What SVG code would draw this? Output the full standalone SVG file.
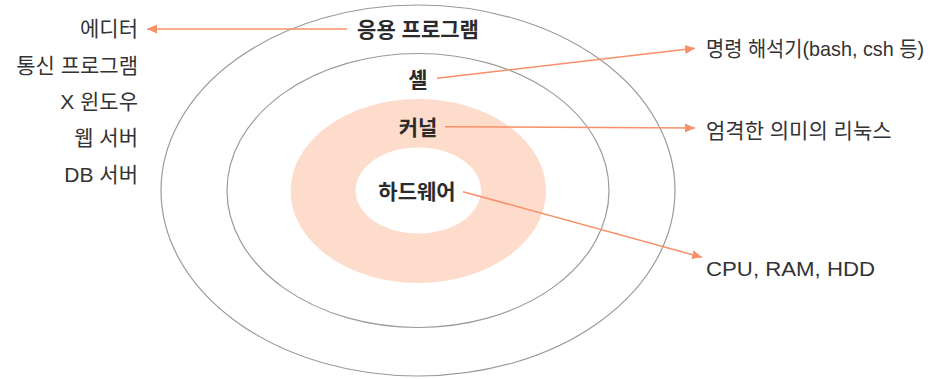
<svg xmlns="http://www.w3.org/2000/svg" width="946" height="379" viewBox="0 0 946 379">
<style>
.ring{fill:none;stroke:#9a9a9a;stroke-width:1.2}
.lbl{font-family:"Liberation Sans","Noto Sans CJK KR",sans-serif;font-size:21px;font-weight:bold;fill:#2b2b2b;text-anchor:middle}
.side{font-family:"Liberation Sans","Noto Sans CJK KR",sans-serif;font-size:21px;fill:#333}
.conn{stroke:#f79068;stroke-width:1.5;fill:none;marker-end:url(#ah)}
</style>
<defs>
<marker id="ah" viewBox="0 0 10 10" refX="10" refY="5" markerWidth="10" markerHeight="10" markerUnits="userSpaceOnUse" orient="auto">
<path d="M0,0.5 L10,5 L0,9.5 Z" fill="#f79068"/>
</marker>
</defs>
<rect width="946" height="379" fill="#fff"/>
<g id="app">
<ellipse class="ring" cx="418" cy="190.5" rx="257" ry="185.5"/>
<text class="lbl" x="418" y="37">응용 프로그램</text>
</g>
<g id="shell">
<ellipse class="ring" cx="418" cy="190.5" rx="191" ry="137"/>
<text class="lbl" x="418" y="87">셸</text>
</g>
<g id="kernel">
<ellipse cx="418.3" cy="191" rx="127.7" ry="92" fill="#fddccc"/>
<text class="lbl" x="418" y="135">커널</text>
</g>
<g id="hardware">
<ellipse cx="418.3" cy="190.5" rx="62.7" ry="43" fill="#fff"/>
<text class="lbl" x="417" y="199">하드웨어</text>
</g>
<g id="left-list" class="side" text-anchor="end">
<text x="138" y="36">에디터</text>
<text x="138" y="73">통신 프로그램</text>
<text x="138" y="109">X 윈도우</text>
<text x="138" y="145">웹 서버</text>
<text x="138" y="182">DB 서버</text>
</g>
<g id="right-labels" class="side">
<text x="706" y="56" textLength="218" lengthAdjust="spacingAndGlyphs">명령 해석기(bash, csh 등)</text>
<text x="706" y="138">엄격한 의미의 리눅스</text>
<text x="706" y="276" textLength="169" lengthAdjust="spacingAndGlyphs">CPU, RAM, HDD</text>
</g>
<g id="connectors">
<line class="conn" x1="347" y1="29" x2="147" y2="29"/>
<line class="conn" x1="437" y1="78.3" x2="695" y2="48.3"/>
<line class="conn" x1="445" y1="126.7" x2="695" y2="128"/>
<line class="conn" x1="463" y1="191.7" x2="702" y2="257.3"/>
</g>
</svg>
